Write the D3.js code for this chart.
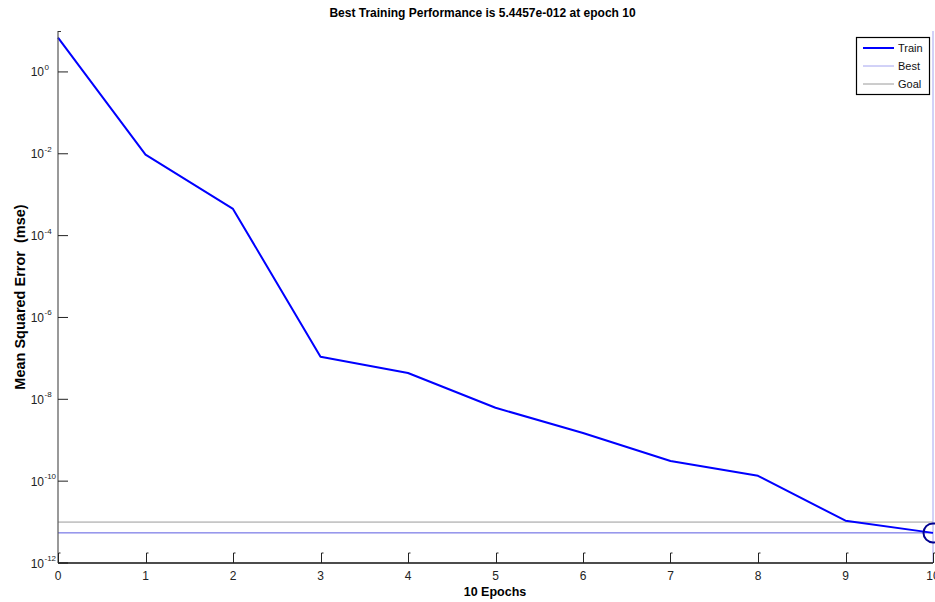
<!DOCTYPE html>
<html>
<head>
<meta charset="utf-8">
<script src="https://cdn.jsdelivr.net/npm/d3@7"></script>
<style>
  body { margin: 0; background: #fff; }
  svg { display: block; font-family: "Liberation Sans", Arial, sans-serif; }
</style>
</head>
<body>
<svg id="chart" width="935" height="602"></svg>
<script>
// ---- data ----
const epochs = [0, 1, 2, 3, 4, 5, 6, 7, 8, 9, 10];
const trainMSE = [6.9, 0.0095, 4.5e-4, 1.09e-7, 4.4e-8, 6.2e-9, 1.5e-9, 3.1e-10, 1.35e-10, 1.08e-11, 5.4457e-12];
const bestEpoch = 10;
const bestValue = 5.4457e-12;
const goalValue = 1e-11;
const yTickExponents = [0, -2, -4, -6, -8, -10, -12];
const xTickValues = [0, 1, 2, 3, 4, 5, 6, 7, 8, 9, 10];
const legendLabels = ["Train", "Best", "Goal"];
const titleText = "Best Training Performance is 5.4457e-012 at epoch 10";
const xLabelText = "10 Epochs";
const yLabelText = "Mean Squared Error  (mse)";

// ---- layout ----
const svg = d3.select("#chart");
const x = d3.scaleLinear().domain([0, 10]).range([58, 933]);
const y = d3.scaleLog().domain([1e-12, 1e1]).range([563, 31]);

// goal line
svg.append("line")
  .attr("x1", x(0)).attr("x2", x(10))
  .attr("y1", y(goalValue)).attr("y2", y(goalValue))
  .attr("stroke", "#9a9a9a").attr("stroke-width", 1);

// best horizontal line
svg.append("line")
  .attr("x1", x(0)).attr("x2", x(10))
  .attr("y1", y(bestValue)).attr("y2", y(bestValue))
  .attr("stroke", "#5a5ae0").attr("stroke-width", 1);

// best vertical line
svg.append("line")
  .attr("x1", x(bestEpoch)).attr("x2", x(bestEpoch))
  .attr("y1", y(1e1)).attr("y2", y(1e-12))
  .attr("stroke", "#a4a4f0").attr("stroke-width", 1);

// train line
const line = d3.line().x((d, i) => x(epochs[i])).y(d => y(d));
svg.append("path")
  .datum(trainMSE)
  .attr("d", line)
  .attr("fill", "none")
  .attr("stroke", "#0000ff")
  .attr("stroke-width", 2)
  .attr("stroke-linejoin", "round");

// best marker
svg.append("circle")
  .attr("cx", x(bestEpoch)).attr("cy", y(bestValue)).attr("r", 9.5)
  .attr("fill", "none").attr("stroke", "#000090").attr("stroke-width", 2);

// y axis line
svg.append("line")
  .attr("x1", x(0)).attr("x2", x(0))
  .attr("y1", y(1e1)).attr("y2", y(1e-12))
  .attr("stroke", "#555").attr("stroke-width", 1.2);
// top small tick
svg.append("line")
  .attr("x1", x(0)).attr("x2", x(0) + 3)
  .attr("y1", y(1e1) + 0.5).attr("y2", y(1e1) + 0.5)
  .attr("stroke", "#333").attr("stroke-width", 1);

// y ticks
const yt = svg.append("g");
yTickExponents.forEach(e => {
  const yy = y(Math.pow(10, e));
  yt.append("line")
    .attr("x1", x(0)).attr("x2", x(0) + 10)
    .attr("y1", yy).attr("y2", yy)
    .attr("stroke", "#222").attr("stroke-width", 1);
  yt.append("text")
    .attr("x", 44).attr("y", yy + 4.5)
    .attr("text-anchor", "end")
    .attr("font-size", 12).attr("fill", "#222")
    .text("10");
  yt.append("text")
    .attr("x", 44.5).attr("y", yy - 2)
    .attr("text-anchor", "start")
    .attr("font-size", 8).attr("fill", "#222")
    .text(String(e));
});

// x axis line
svg.append("line")
  .attr("x1", x(0)).attr("x2", x(10))
  .attr("y1", 563).attr("y2", 563)
  .attr("stroke", "#111").attr("stroke-width", 1.6);

// x ticks
const xt = svg.append("g");
xTickValues.forEach(v => {
  const xx = Math.round(x(v)) + 0.5;
  xt.append("path")
    .attr("d", `M${xx},563 V553 h2`)
    .attr("fill", "none").attr("stroke", "#222").attr("stroke-width", 1);
  xt.append("text")
    .attr("x", x(v)).attr("y", 580)
    .attr("text-anchor", "middle")
    .attr("font-size", 12).attr("fill", "#222")
    .text(v);
});

// title
svg.append("text")
  .attr("x", 482.5).attr("y", 17)
  .attr("text-anchor", "middle")
  .attr("font-size", 12).attr("font-weight", "bold")
  .text(titleText);

// x label
svg.append("text")
  .attr("x", 495).attr("y", 596)
  .attr("text-anchor", "middle")
  .attr("font-size", 12.5).attr("font-weight", "bold")
  .text(xLabelText);

// y label
svg.append("text")
  .attr("transform", "translate(25,297) rotate(-90)")
  .attr("text-anchor", "middle")
  .attr("font-size", 14.5).attr("font-weight", "bold")
  .style("white-space", "pre")
  .text(yLabelText);

// legend
const lg = svg.append("g");
lg.append("rect")
  .attr("x", 856.5).attr("y", 37.5).attr("width", 73).attr("height", 57)
  .attr("fill", "#fff").attr("stroke", "#000").attr("stroke-width", 1.2);
const legendColors = ["#0000ff", "#a4a4f0", "#9a9a9a"];
const legendWidths = [2, 1, 1];
legendLabels.forEach((lab, i) => {
  const ly = 48 + i * 18;
  lg.append("line")
    .attr("x1", 863).attr("x2", 894).attr("y1", ly).attr("y2", ly)
    .attr("stroke", legendColors[i]).attr("stroke-width", legendWidths[i]);
  lg.append("text")
    .attr("x", 898).attr("y", ly + 4)
    .attr("font-size", 11).attr("fill", "#111")
    .text(lab);
});
</script>
</body>
</html>
